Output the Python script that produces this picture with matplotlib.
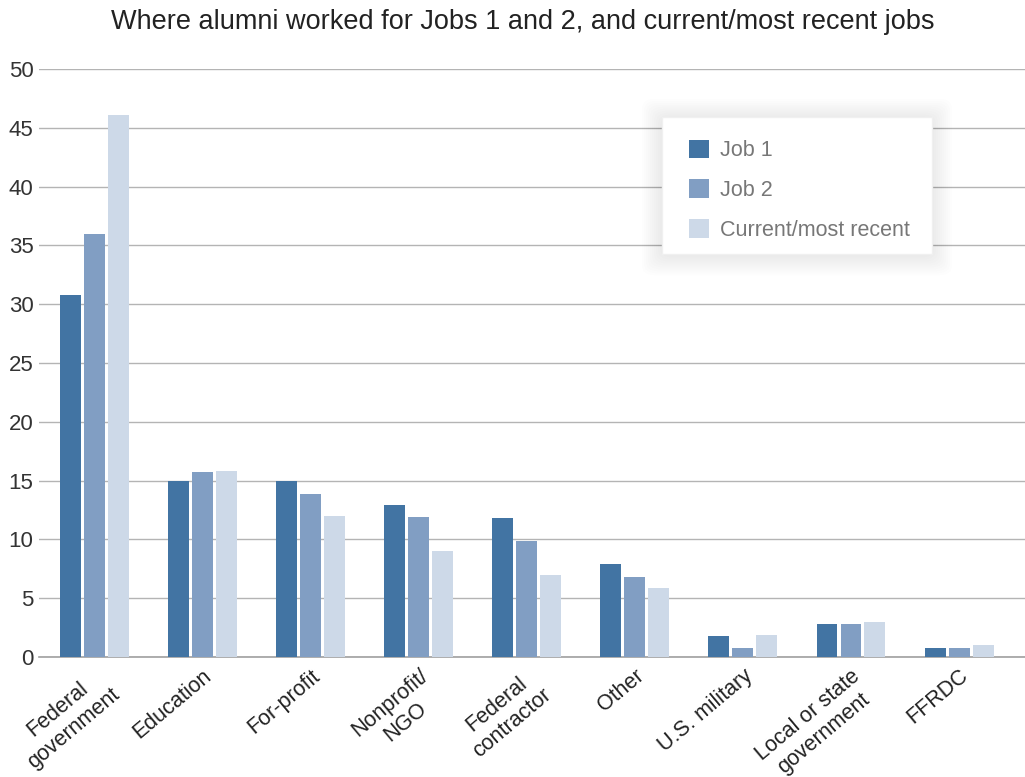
import numpy as np
import matplotlib.pyplot as plt
from matplotlib.patches import FancyBboxPatch, Rectangle

plt.rcParams['font.family'] = ['Liberation Sans', 'DejaVu Sans']

categories = ['Federal\ngovernment', 'Education', 'For-profit', 'Nonprofit/\nNGO',
              'Federal\ncontractor', 'Other', 'U.S. military',
              'Local or state\ngovernment', 'FFRDC']
job1 = [30.8, 15.0, 15.0, 12.9, 11.8, 7.9, 1.8, 2.8, 0.8]
job2 = [36.0, 15.7, 13.9, 11.9, 9.9, 6.8, 0.8, 2.8, 0.8]
current = [46.1, 15.8, 12.0, 9.0, 7.0, 5.9, 1.9, 3.0, 1.0]
series_names = ['Job 1', 'Job 2', 'Current/most recent']
colors = ['#4274a3', '#819ec3', '#cdd9e8']

fig = plt.figure(figsize=(10.25, 7.77), dpi=100)
ax = fig.add_axes([0.038, 0.1544, 0.962, 0.7568])

x = np.arange(len(categories))
w = 0.194
pitch = 0.222
for i, (vals, name, c) in enumerate(zip([job1, job2, current], series_names, colors)):
    ax.bar(x + (i - 1) * pitch, vals, width=w, color=c, label=name, zorder=3)

ax.set_xlim(-0.513, 8.61)
ax.set_ylim(0, 50)
ax.set_yticks(range(0, 51, 5))
ax.grid(axis='y', color='#b4b4b4', linewidth=1, zorder=0)
for s in ['top', 'right', 'left']:
    ax.spines[s].set_visible(False)
ax.spines['bottom'].set_color('#a0a0a0')
ax.spines['bottom'].set_linewidth(1.2)
ax.tick_params(axis='y', length=0, labelsize=16, colors='#333333', pad=4)
ax.tick_params(axis='x', length=0, labelsize=15.5, colors='#222222', pad=6)
ax.set_xticks(x)
ax.set_xticklabels(categories, rotation=40, ha='right', rotation_mode='anchor',
                   multialignment='center')

fig.suptitle('Where alumni worked for Jobs 1 and 2, and current/most recent jobs',
             fontsize=19.5, color='#222222', x=0.510, y=0.988)

# legend box with soft shadow, drawn by hand
lx0, ly0, lw, lh = 662 / 1025, 1 - 254 / 777, 270 / 1025, 137 / 777
for k in range(10, 0, -1):
    pad = k * 2.0 / 1025
    fig.patches.append(FancyBboxPatch((lx0 - pad, ly0 - pad * 1.3 - 0.002), lw + 2 * pad, lh + 2 * pad * 1.3,
                                      boxstyle='round,pad=0,rounding_size=0.012',
                                      transform=fig.transFigure, facecolor='black',
                                      edgecolor='none', alpha=0.006, zorder=5))
fig.patches.append(Rectangle((lx0, ly0), lw, lh, transform=fig.transFigure,
                             facecolor='white', edgecolor='#f0f0f0', zorder=6))
leg = fig.legend(loc='upper left', bbox_to_anchor=(689 / 1025, 1 - 139.5 / 777),
                 fontsize=15.5, frameon=False,
                 handlelength=0.95, handleheight=0.95, handletextpad=0.5,
                 labelspacing=0.85, borderpad=0, borderaxespad=0)
leg.set_zorder(10)
for t in leg.get_texts():
    t.set_color('#777777')

fig.savefig('out.png', dpi=100)
